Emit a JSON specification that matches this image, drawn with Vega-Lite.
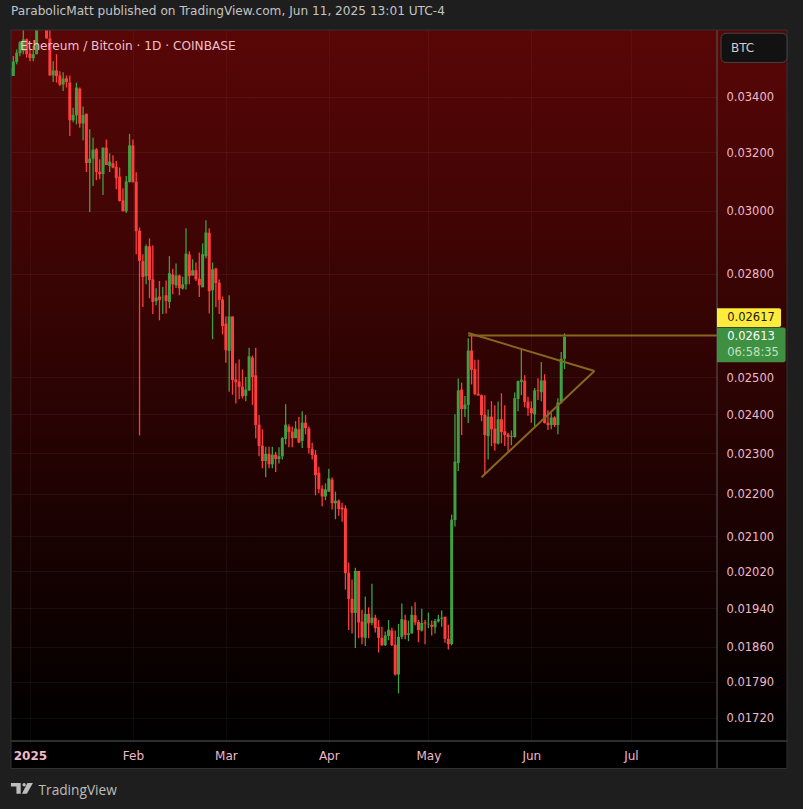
{
  "$schema": "https://vega.github.io/schema/vega-lite/v6.json",
  "width": 706,
  "height": 711,
  "autosize": {"type": "none"},
  "padding": {"left": 11, "top": 30, "right": 86, "bottom": 68},
  "background": "#1e1e1e",
  "title": {"text": "ParabolicMatt published on TradingView.com, Jun 11, 2025 13:01 UTC-4", "anchor": "start", "frame": "group", "offset": 12, "font": "DejaVu Sans", "fontSize": 12.15, "fontWeight": "normal", "color": "#c4c4c4"},
  "config": {"view": {"stroke": null}, "font": "DejaVu Sans"},
  "datasets": {
    "candles": [
      {"date":"2024-12-26","open":0.03479,"high":0.03520,"low":0.03479,"close":0.03511},
      {"date":"2024-12-27","open":0.03479,"high":0.03556,"low":0.03479,"close":0.03535},
      {"date":"2024-12-28","open":0.03533,"high":0.03582,"low":0.03524,"close":0.03569},
      {"date":"2024-12-29","open":0.03567,"high":0.03615,"low":0.03555,"close":0.03610},
      {"date":"2024-12-30","open":0.03576,"high":0.03662,"low":0.03563,"close":0.03622},
      {"date":"2024-12-31","open":0.03622,"high":0.03625,"low":0.03550,"close":0.03563},
      {"date":"2025-01-01","open":0.03565,"high":0.03582,"low":0.03536,"close":0.03548},
      {"date":"2025-01-02","open":0.03547,"high":0.03596,"low":0.03536,"close":0.03563},
      {"date":"2025-01-03","open":0.03563,"high":0.03670,"low":0.03563,"close":0.03662},
      {"date":"2025-01-04","open":0.03670,"high":0.03722,"low":0.03658,"close":0.03702},
      {"date":"2025-01-05","open":0.03722,"high":0.03735,"low":0.03670,"close":0.03682},
      {"date":"2025-01-06","open":0.03702,"high":0.03722,"low":0.03625,"close":0.03625},
      {"date":"2025-01-07","open":0.03625,"high":0.03662,"low":0.03481,"close":0.03481},
      {"date":"2025-01-08","open":0.03481,"high":0.03536,"low":0.03456,"close":0.03500},
      {"date":"2025-01-09","open":0.03500,"high":0.03563,"low":0.03454,"close":0.03479},
      {"date":"2025-01-10","open":0.03481,"high":0.03497,"low":0.03441,"close":0.03446},
      {"date":"2025-01-11","open":0.03447,"high":0.03493,"low":0.03422,"close":0.03469},
      {"date":"2025-01-12","open":0.03470,"high":0.03481,"low":0.03435,"close":0.03456},
      {"date":"2025-01-13","open":0.03454,"high":0.03481,"low":0.03257,"close":0.03314},
      {"date":"2025-01-14","open":0.03314,"high":0.03360,"low":0.03307,"close":0.03333},
      {"date":"2025-01-15","open":0.03332,"high":0.03454,"low":0.03299,"close":0.03435},
      {"date":"2025-01-16","open":0.03431,"high":0.03435,"low":0.03287,"close":0.03302},
      {"date":"2025-01-17","open":0.03302,"high":0.03364,"low":0.03242,"close":0.03333},
      {"date":"2025-01-18","open":0.03338,"high":0.03338,"low":0.03131,"close":0.03162},
      {"date":"2025-01-19","open":0.03162,"high":0.03281,"low":0.02997,"close":0.03177},
      {"date":"2025-01-20","open":0.03177,"high":0.03251,"low":0.03083,"close":0.03209},
      {"date":"2025-01-21","open":0.03210,"high":0.03214,"low":0.03103,"close":0.03131},
      {"date":"2025-01-22","open":0.03132,"high":0.03175,"low":0.03106,"close":0.03123},
      {"date":"2025-01-23","open":0.03124,"high":0.03216,"low":0.03053,"close":0.03216},
      {"date":"2025-01-24","open":0.03216,"high":0.03245,"low":0.03155,"close":0.03155},
      {"date":"2025-01-25","open":0.03152,"high":0.03196,"low":0.03131,"close":0.03167},
      {"date":"2025-01-26","open":0.03161,"high":0.03189,"low":0.03144,"close":0.03146},
      {"date":"2025-01-27","open":0.03149,"high":0.03169,"low":0.03072,"close":0.03110},
      {"date":"2025-01-28","open":0.03115,"high":0.03146,"low":0.03031,"close":0.03033},
      {"date":"2025-01-29","open":0.03035,"high":0.03076,"low":0.02999,"close":0.02999},
      {"date":"2025-01-30","open":0.02999,"high":0.03117,"low":0.02993,"close":0.03099},
      {"date":"2025-01-31","open":0.03097,"high":0.03265,"low":0.03095,"close":0.03224},
      {"date":"2025-02-01","open":0.03224,"high":0.03245,"low":0.03096,"close":0.03096},
      {"date":"2025-02-02","open":0.03098,"high":0.03130,"low":0.02861,"close":0.02934},
      {"date":"2025-02-03","open":0.02936,"high":0.02946,"low":0.02345,"close":0.02840},
      {"date":"2025-02-04","open":0.02839,"high":0.02861,"low":0.02700,"close":0.02790},
      {"date":"2025-02-05","open":0.02793,"high":0.02892,"low":0.02768,"close":0.02886},
      {"date":"2025-02-06","open":0.02886,"high":0.02911,"low":0.02726,"close":0.02781},
      {"date":"2025-02-07","open":0.02783,"high":0.02889,"low":0.02679,"close":0.02715},
      {"date":"2025-02-08","open":0.02717,"high":0.02756,"low":0.02705,"close":0.02728},
      {"date":"2025-02-09","open":0.02731,"high":0.02778,"low":0.02661,"close":0.02721},
      {"date":"2025-02-10","open":0.02727,"high":0.02760,"low":0.02679,"close":0.02728},
      {"date":"2025-02-11","open":0.02735,"high":0.02780,"low":0.02681,"close":0.02718},
      {"date":"2025-02-12","open":0.02715,"high":0.02855,"low":0.02696,"close":0.02802},
      {"date":"2025-02-13","open":0.02798,"high":0.02816,"low":0.02738,"close":0.02768},
      {"date":"2025-02-14","open":0.02765,"high":0.02832,"low":0.02757,"close":0.02795},
      {"date":"2025-02-15","open":0.02795,"high":0.02798,"low":0.02735,"close":0.02756},
      {"date":"2025-02-16","open":0.02755,"high":0.02791,"low":0.02752,"close":0.02768},
      {"date":"2025-02-17","open":0.02768,"high":0.02944,"low":0.02752,"close":0.02863},
      {"date":"2025-02-18","open":0.02860,"high":0.02870,"low":0.02768,"close":0.02793},
      {"date":"2025-02-19","open":0.02795,"high":0.02845,"low":0.02795,"close":0.02811},
      {"date":"2025-02-20","open":0.02811,"high":0.02835,"low":0.02778,"close":0.02783},
      {"date":"2025-02-21","open":0.02785,"high":0.02866,"low":0.02730,"close":0.02765},
      {"date":"2025-02-22","open":0.02759,"high":0.02895,"low":0.02759,"close":0.02861},
      {"date":"2025-02-23","open":0.02855,"high":0.02970,"low":0.02848,"close":0.02930},
      {"date":"2025-02-24","open":0.02929,"high":0.02944,"low":0.02681,"close":0.02747},
      {"date":"2025-02-25","open":0.02750,"high":0.02835,"low":0.02606,"close":0.02814},
      {"date":"2025-02-26","open":0.02816,"high":0.02819,"low":0.02700,"close":0.02772},
      {"date":"2025-02-27","open":0.02773,"high":0.02783,"low":0.02679,"close":0.02721},
      {"date":"2025-02-28","open":0.02722,"high":0.02731,"low":0.02620,"close":0.02644},
      {"date":"2025-03-01","open":0.02651,"high":0.02672,"low":0.02540,"close":0.02575},
      {"date":"2025-03-02","open":0.02573,"high":0.02735,"low":0.02460,"close":0.02672},
      {"date":"2025-03-03","open":0.02672,"high":0.02672,"low":0.02452,"close":0.02492},
      {"date":"2025-03-04","open":0.02494,"high":0.02538,"low":0.02429,"close":0.02486},
      {"date":"2025-03-05","open":0.02488,"high":0.02549,"low":0.02440,"close":0.02473},
      {"date":"2025-03-06","open":0.02474,"high":0.02521,"low":0.02442,"close":0.02448},
      {"date":"2025-03-07","open":0.02449,"high":0.02500,"low":0.02435,"close":0.02466},
      {"date":"2025-03-08","open":0.02464,"high":0.02582,"low":0.02462,"close":0.02558},
      {"date":"2025-03-09","open":0.02554,"high":0.02560,"low":0.02425,"close":0.02500},
      {"date":"2025-03-10","open":0.02505,"high":0.02582,"low":0.02338,"close":0.02372},
      {"date":"2025-03-11","open":0.02373,"high":0.02398,"low":0.02292,"close":0.02318},
      {"date":"2025-03-12","open":0.02319,"high":0.02361,"low":0.02262,"close":0.02280},
      {"date":"2025-03-13","open":0.02280,"high":0.02316,"low":0.02240,"close":0.02298},
      {"date":"2025-03-14","open":0.02298,"high":0.02316,"low":0.02262,"close":0.02272},
      {"date":"2025-03-15","open":0.02272,"high":0.02316,"low":0.02262,"close":0.02296},
      {"date":"2025-03-16","open":0.02296,"high":0.02303,"low":0.02253,"close":0.02285},
      {"date":"2025-03-17","open":0.02285,"high":0.02315,"low":0.02274,"close":0.02292},
      {"date":"2025-03-18","open":0.02292,"high":0.02341,"low":0.02284,"close":0.02338},
      {"date":"2025-03-19","open":0.02336,"high":0.02427,"low":0.02322,"close":0.02373},
      {"date":"2025-03-20","open":0.02368,"high":0.02374,"low":0.02315,"close":0.02354},
      {"date":"2025-03-21","open":0.02355,"high":0.02368,"low":0.02315,"close":0.02338},
      {"date":"2025-03-22","open":0.02338,"high":0.02382,"low":0.02338,"close":0.02363},
      {"date":"2025-03-23","open":0.02361,"high":0.02393,"low":0.02325,"close":0.02327},
      {"date":"2025-03-24","open":0.02331,"high":0.02408,"low":0.02313,"close":0.02378},
      {"date":"2025-03-25","open":0.02378,"high":0.02398,"low":0.02348,"close":0.02364},
      {"date":"2025-03-26","open":0.02363,"high":0.02368,"low":0.02299,"close":0.02313},
      {"date":"2025-03-27","open":0.02311,"high":0.02326,"low":0.02284,"close":0.02295},
      {"date":"2025-03-28","open":0.02296,"high":0.02308,"low":0.02196,"close":0.02245},
      {"date":"2025-03-29","open":0.02251,"high":0.02266,"low":0.02201,"close":0.02211},
      {"date":"2025-03-30","open":0.02212,"high":0.02220,"low":0.02170,"close":0.02193},
      {"date":"2025-03-31","open":0.02193,"high":0.02225,"low":0.02184,"close":0.02210},
      {"date":"2025-04-01","open":0.02205,"high":0.02261,"low":0.02204,"close":0.02237},
      {"date":"2025-04-02","open":0.02234,"high":0.02239,"low":0.02162,"close":0.02177},
      {"date":"2025-04-03","open":0.02177,"high":0.02205,"low":0.02139,"close":0.02183},
      {"date":"2025-04-04","open":0.02183,"high":0.02186,"low":0.02147,"close":0.02163},
      {"date":"2025-04-05","open":0.02167,"high":0.02178,"low":0.02133,"close":0.02162},
      {"date":"2025-04-06","open":0.02165,"high":0.02172,"low":0.01980,"close":0.02016},
      {"date":"2025-04-07","open":0.02017,"high":0.02040,"low":0.01894,"close":0.01960},
      {"date":"2025-04-08","open":0.01960,"high":0.02002,"low":0.01887,"close":0.01930},
      {"date":"2025-04-09","open":0.01930,"high":0.02028,"low":0.01857,"close":0.02021},
      {"date":"2025-04-10","open":0.02021,"high":0.02021,"low":0.01877,"close":0.01910},
      {"date":"2025-04-11","open":0.01912,"high":0.01937,"low":0.01865,"close":0.01879},
      {"date":"2025-04-12","open":0.01878,"high":0.01965,"low":0.01861,"close":0.01928},
      {"date":"2025-04-13","open":0.01928,"high":0.01942,"low":0.01877,"close":0.01908},
      {"date":"2025-04-14","open":0.01909,"high":0.01993,"low":0.01904,"close":0.01920},
      {"date":"2025-04-15","open":0.01920,"high":0.01926,"low":0.01889,"close":0.01898},
      {"date":"2025-04-16","open":0.01901,"high":0.01915,"low":0.01848,"close":0.01878},
      {"date":"2025-04-17","open":0.01878,"high":0.01901,"low":0.01861,"close":0.01863},
      {"date":"2025-04-18","open":0.01863,"high":0.01891,"low":0.01861,"close":0.01883},
      {"date":"2025-04-19","open":0.01882,"high":0.01915,"low":0.01873,"close":0.01895},
      {"date":"2025-04-20","open":0.01893,"high":0.01899,"low":0.01861,"close":0.01863},
      {"date":"2025-04-21","open":0.01864,"high":0.01893,"low":0.01802,"close":0.01804},
      {"date":"2025-04-22","open":0.01804,"high":0.01907,"low":0.01767,"close":0.01880},
      {"date":"2025-04-23","open":0.01880,"high":0.01950,"low":0.01875,"close":0.01917},
      {"date":"2025-04-24","open":0.01915,"high":0.01926,"low":0.01875,"close":0.01884},
      {"date":"2025-04-25","open":0.01884,"high":0.01914,"low":0.01871,"close":0.01887},
      {"date":"2025-04-26","open":0.01887,"high":0.01944,"low":0.01887,"close":0.01926},
      {"date":"2025-04-27","open":0.01925,"high":0.01953,"low":0.01904,"close":0.01910},
      {"date":"2025-04-28","open":0.01911,"high":0.01915,"low":0.01869,"close":0.01894},
      {"date":"2025-04-29","open":0.01893,"high":0.01939,"low":0.01891,"close":0.01909},
      {"date":"2025-04-30","open":0.01910,"high":0.01915,"low":0.01865,"close":0.01908},
      {"date":"2025-05-01","open":0.01906,"high":0.01931,"low":0.01898,"close":0.01907},
      {"date":"2025-05-02","open":0.01905,"high":0.01914,"low":0.01883,"close":0.01901},
      {"date":"2025-05-03","open":0.01900,"high":0.01917,"low":0.01887,"close":0.01913},
      {"date":"2025-05-04","open":0.01912,"high":0.01926,"low":0.01910,"close":0.01917},
      {"date":"2025-05-05","open":0.01918,"high":0.01935,"low":0.01901,"close":0.01920},
      {"date":"2025-05-06","open":0.01922,"high":0.01922,"low":0.01868,"close":0.01876},
      {"date":"2025-05-07","open":0.01876,"high":0.01905,"low":0.01854,"close":0.01865},
      {"date":"2025-05-08","open":0.01865,"high":0.02150,"low":0.01863,"close":0.02138},
      {"date":"2025-05-09","open":0.02137,"high":0.02400,"low":0.02122,"close":0.02279},
      {"date":"2025-05-10","open":0.02275,"high":0.02496,"low":0.02255,"close":0.02464},
      {"date":"2025-05-11","open":0.02466,"high":0.02485,"low":0.02346,"close":0.02414},
      {"date":"2025-05-12","open":0.02414,"high":0.02449,"low":0.02393,"close":0.02426},
      {"date":"2025-05-13","open":0.02425,"high":0.02609,"low":0.02377,"close":0.02574},
      {"date":"2025-05-14","open":0.02574,"high":0.02620,"low":0.02480,"close":0.02520},
      {"date":"2025-05-15","open":0.02522,"high":0.02548,"low":0.02451,"close":0.02454},
      {"date":"2025-05-16","open":0.02455,"high":0.02548,"low":0.02450,"close":0.02450},
      {"date":"2025-05-17","open":0.02451,"high":0.02453,"low":0.02382,"close":0.02398},
      {"date":"2025-05-18","open":0.02399,"high":0.02451,"low":0.02247,"close":0.02346},
      {"date":"2025-05-19","open":0.02343,"high":0.02413,"low":0.02284,"close":0.02394},
      {"date":"2025-05-20","open":0.02394,"high":0.02435,"low":0.02318,"close":0.02361},
      {"date":"2025-05-21","open":0.02363,"high":0.02424,"low":0.02306,"close":0.02325},
      {"date":"2025-05-22","open":0.02324,"high":0.02434,"low":0.02322,"close":0.02387},
      {"date":"2025-05-23","open":0.02387,"high":0.02456,"low":0.02325,"close":0.02354},
      {"date":"2025-05-24","open":0.02356,"high":0.02424,"low":0.02318,"close":0.02346},
      {"date":"2025-05-25","open":0.02348,"high":0.02352,"low":0.02303,"close":0.02341},
      {"date":"2025-05-26","open":0.02341,"high":0.02358,"low":0.02320,"close":0.02343},
      {"date":"2025-05-27","open":0.02341,"high":0.02458,"low":0.02339,"close":0.02443},
      {"date":"2025-05-28","open":0.02441,"high":0.02491,"low":0.02408,"close":0.02489},
      {"date":"2025-05-29","open":0.02487,"high":0.02577,"low":0.02451,"close":0.02493},
      {"date":"2025-05-30","open":0.02490,"high":0.02505,"low":0.02419,"close":0.02433},
      {"date":"2025-05-31","open":0.02434,"high":0.02447,"low":0.02396,"close":0.02416},
      {"date":"2025-06-01","open":0.02416,"high":0.02435,"low":0.02378,"close":0.02403},
      {"date":"2025-06-02","open":0.02400,"high":0.02470,"low":0.02368,"close":0.02464},
      {"date":"2025-06-03","open":0.02464,"high":0.02497,"low":0.02438,"close":0.02462},
      {"date":"2025-06-04","open":0.02459,"high":0.02542,"low":0.02435,"close":0.02491},
      {"date":"2025-06-05","open":0.02491,"high":0.02508,"low":0.02376,"close":0.02377},
      {"date":"2025-06-06","open":0.02378,"high":0.02411,"low":0.02359,"close":0.02372},
      {"date":"2025-06-07","open":0.02372,"high":0.02404,"low":0.02361,"close":0.02392},
      {"date":"2025-06-08","open":0.02392,"high":0.02395,"low":0.02367,"close":0.02372},
      {"date":"2025-06-09","open":0.02372,"high":0.02443,"low":0.02348,"close":0.02431},
      {"date":"2025-06-10","open":0.02431,"high":0.02570,"low":0.02429,"close":0.02551},
      {"date":"2025-06-11","open":0.02551,"high":0.02623,"low":0.02522,"close":0.02613}
    ],
    "trend": [
      {"line":"upper","date":"2025-05-13","price":0.02624},
      {"line":"upper","date":"2025-06-20","price":0.02517},
      {"line":"lower","date":"2025-05-17","price":0.02240},
      {"line":"lower","date":"2025-06-20","price":0.02517},
      {"line":"level","date":"2025-05-13","price":0.02617},
      {"line":"level","date":"2025-07-27","price":0.02617}
    ]
  },
  "layer": [
    {
      "data": {"values": [{"date":"2024-12-26T07:00:00Z","date2":"2025-08-17T00:00:00Z","price":0.03659,"price2":0.01677}]},
      "mark": {"type": "rect", "color": {"gradient": "linear", "x1": 0, "y1": 0, "x2": 0, "y2": 1, "stops": [{"offset": 0, "color": "#590606"}, {"offset": 1, "color": "#000000"}]}},
      "encoding": {
        "x": {
          "field": "date", "type": "temporal",
          "scale": {"type": "utc", "domain": ["2024-12-26T07:00:00Z", "2025-07-26T22:00:00Z"], "nice": false, "padding": 0},
          "axis": {
            "title": "TradingView", "titleAnchor": "start", "titleAlign": "left", "titleBaseline": "middle", "titleX": 27, "titleY": 49,
            "titleFont": "Open Sans", "titleFontSize": 13.7, "titleFontWeight": "normal", "titleColor": "#bdbdbd",
            "values": [
              {"year":2025,"month":1,"date":1,"utc":true},{"year":2025,"month":2,"date":1,"utc":true},
              {"year":2025,"month":3,"date":1,"utc":true},{"year":2025,"month":4,"date":1,"utc":true},
              {"year":2025,"month":5,"date":1,"utc":true},{"year":2025,"month":6,"date":1,"utc":true},
              {"year":2025,"month":7,"date":1,"utc":true}
            ],
            "labelExpr": "utcmonth(datum.value) == 0 ? '2025' : utcFormat(datum.value, '%b')",
            "labelFontWeight": {"condition": {"test": "utcmonth(datum.value) == 0", "value": "bold"}, "value": "normal"},
            "labelFontSize": 12, "labelColor": "#efb9c8", "labelBaseline": "middle", "labelPadding": 14, "labelFlush": false,
            "ticks": false, "domain": false, "grid": true, "gridColor": "#ffffff", "gridOpacity": 0.04, "zindex": 1
          }
        },
        "x2": {"field": "date2"},
        "y": {
          "field": "price", "type": "quantitative",
          "scale": {"type": "log", "domain": [0.01677, 0.03659], "nice": false, "padding": 0},
          "axis": {
            "title": null, "orient": "right", "offset": 0,
            "values": [0.034, 0.032, 0.03, 0.028, 0.025, 0.024, 0.023, 0.022, 0.021, 0.0202, 0.0194, 0.0186, 0.0179, 0.0172],
            "format": ".5f", "labelFontSize": 11.5, "labelColor": "#efb9c8", "labelPadding": 9, "labelOffset": 1,
            "ticks": false, "domain": false, "grid": true, "gridColor": "#ffffff", "gridOpacity": 0.05, "zindex": 1
          }
        },
        "y2": {"field": "price2"}
      }
    },
    {
      "data": {"values": [{"date":"2024-12-26T07:00:00Z","date2":"2025-08-17T00:00:00Z","price":0.01677,"price2":0.01627}]},
      "mark": {"type": "rect", "color": "#000000"},
      "encoding": {
        "x": {"field": "date", "type": "temporal"}, "x2": {"field": "date2"},
        "y": {"field": "price", "type": "quantitative"}, "y2": {"field": "price2"}
      }
    },
    {
      "data": {"name": "candles"},
      "encoding": {
        "x": {"field": "date", "type": "temporal"},
        "color": {"condition": {"test": "datum.close >= datum.open", "value": "#3f9f42"}, "value": "#ff3d3d"}
      },
      "layer": [
        {
          "mark": {"type": "rule", "strokeWidth": 1.3, "clip": true},
          "encoding": {"y": {"field": "low", "type": "quantitative"}, "y2": {"field": "high"}}
        },
        {
          "mark": {"type": "bar", "size": 3, "clip": true},
          "encoding": {"y": {"field": "open", "type": "quantitative"}, "y2": {"field": "close"}}
        }
      ]
    },
    {
      "data": {"name": "trend"},
      "mark": {"type": "line", "color": "#86671f", "strokeWidth": 2, "clip": true},
      "encoding": {
        "x": {"field": "date", "type": "temporal"},
        "y": {"field": "price", "type": "quantitative"},
        "detail": {"field": "line"}
      }
    },
    {
      "data": {"values": [{"date":"2025-07-26T22:00:00Z","price":0.03659,"price2":0.01627}]},
      "mark": {"type": "rule", "color": "#5a5a5a", "strokeWidth": 1},
      "encoding": {
        "x": {"field": "date", "type": "temporal"},
        "y": {"field": "price", "type": "quantitative"}, "y2": {"field": "price2"}
      }
    },
    {
      "data": {"values": [{"date":"2024-12-26T07:00:00Z","date2":"2025-08-17T00:00:00Z","price":0.01677}]},
      "mark": {"type": "rule", "color": "#5a5a5a", "strokeWidth": 1},
      "encoding": {
        "x": {"field": "date", "type": "temporal"}, "x2": {"field": "date2"},
        "y": {"field": "price", "type": "quantitative"}
      }
    },
    {
      "data": {"values": [{"date":"2024-12-26T07:00:00Z","date2":"2025-08-17T00:00:00Z","price":0.03659,"price2":0.01627}]},
      "mark": {"type": "rect", "fillOpacity": 0, "stroke": "#333333", "strokeWidth": 1},
      "encoding": {
        "x": {"field": "date", "type": "temporal"}, "x2": {"field": "date2"},
        "y": {"field": "price", "type": "quantitative"}, "y2": {"field": "price2"}
      }
    },
    {
      "data": {"values": [{"date":"2025-07-28T03:00:00Z","date2":"2025-08-17T00:00:00Z","price":0.03646,"price2":0.03531}]},
      "mark": {"type": "rect", "color": "#121212", "stroke": "#444444", "strokeWidth": 1, "cornerRadius": 5},
      "encoding": {
        "x": {"field": "date", "type": "temporal"}, "x2": {"field": "date2"},
        "y": {"field": "price", "type": "quantitative"}, "y2": {"field": "price2"}
      }
    },
    {
      "data": {"values": [{"date":"2025-07-26T22:00:00Z","date2":"2025-08-15T05:00:00Z","price":0.02696,"price2":0.02641}]},
      "mark": {"type": "rect", "color": "#ffeb3b", "cornerRadiusTopRight": 2, "cornerRadiusBottomRight": 2},
      "encoding": {
        "x": {"field": "date", "type": "temporal"}, "x2": {"field": "date2"},
        "y": {"field": "price", "type": "quantitative"}, "y2": {"field": "price2"}
      }
    },
    {
      "data": {"values": [{"date":"2025-07-26T22:00:00Z","date2":"2025-08-16T14:00:00Z","price":0.02640,"price2":0.02541}]},
      "mark": {"type": "rect", "color": "#3d9140", "cornerRadiusTopRight": 2, "cornerRadiusBottomRight": 2},
      "encoding": {
        "x": {"field": "date", "type": "temporal"}, "x2": {"field": "date2"},
        "y": {"field": "price", "type": "quantitative"}, "y2": {"field": "price2"}
      }
    },
    {
      "data": {"values": [{"label":"Ethereum / Bitcoin · 1D · COINBASE","date":"2024-12-29","price":0.03594}]},
      "mark": {"type": "text", "align": "left", "baseline": "middle", "fontSize": 12.15, "color": "#efc0cc"},
      "encoding": {
        "x": {"field": "date", "type": "temporal"},
        "y": {"field": "price", "type": "quantitative"},
        "text": {"field": "label"}
      }
    },
    {
      "data": {"values": [{"label":"BTC","date":"2025-07-31T03:00:00Z","price":0.03588}]},
      "mark": {"type": "text", "align": "left", "baseline": "middle", "fontSize": 12, "color": "#cfcfcf"},
      "encoding": {
        "x": {"field": "date", "type": "temporal"},
        "y": {"field": "price", "type": "quantitative"},
        "text": {"field": "label"}
      }
    },
    {
      "data": {"values": [{"label":"0.02617","date":"2025-07-30","price":0.02667}]},
      "mark": {"type": "text", "align": "left", "baseline": "middle", "fontSize": 11.5, "color": "#1a1a1a"},
      "encoding": {
        "x": {"field": "date", "type": "temporal"},
        "y": {"field": "price", "type": "quantitative"},
        "text": {"field": "label"}
      }
    },
    {
      "data": {"values": [{"label":"0.02613","date":"2025-07-30","price":0.02612}]},
      "mark": {"type": "text", "align": "left", "baseline": "middle", "fontSize": 11.5, "color": "#ffffff"},
      "encoding": {
        "x": {"field": "date", "type": "temporal"},
        "y": {"field": "price", "type": "quantitative"},
        "text": {"field": "label"}
      }
    },
    {
      "data": {"values": [{"label":"06:58:35","date":"2025-07-30","price":0.02566}]},
      "mark": {"type": "text", "align": "left", "baseline": "middle", "fontSize": 11.5, "color": "#c5e1c6"},
      "encoding": {
        "x": {"field": "date", "type": "temporal"},
        "y": {"field": "price", "type": "quantitative"},
        "text": {"field": "label"}
      }
    },
    {
      "data": {"values": [{"date":"2024-12-29T14:00:00Z","price":0.01592}]},
      "mark": {"type": "point", "filled": true, "opacity": 1, "color": "#bdbdbd", "size": 484,
        "shape": "M-1,-.48 L-.11,-.48 L-.11,.48 L-.5,.48 L-.5,-.18 L-1,-.18 Z M.05,-.33 A.15,.15 0 1 1 .35,-.33 A.15,.15 0 1 1 .05,-.33 Z M.5,-.48 L1,-.48 L.45,.48 L0,.48 Z"},
      "encoding": {
        "x": {"field": "date", "type": "temporal"},
        "y": {"field": "price", "type": "quantitative"}
      }
    }
  ]
}
